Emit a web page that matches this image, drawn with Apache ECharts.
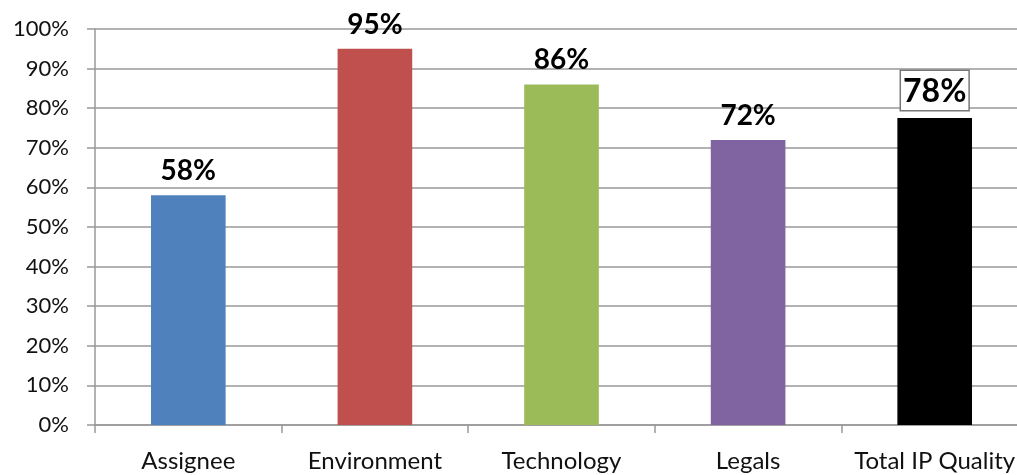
<!DOCTYPE html>
<html>
<head>
<meta charset="utf-8">
<script src="https://cdn.jsdelivr.net/npm/echarts@6/dist/echarts.min.js"></script>
<style>html,body{margin:0;padding:0;background:#fff}#c{width:1017px;height:475px}</style>
</head>
<body>
<div id="c"></div>
<script>
const categories = ['Assignee', 'Environment', 'Technology', 'Legals', 'Total IP Quality'];
const values = [58, 95, 86, 72, 77.5];
const colors = ['#4F81BD', '#C0504D', '#9BBB59', '#8064A2', '#000000'];
const yTicks = [0, 10, 20, 30, 40, 50, 60, 70, 80, 90, 100];

const FONT = 'Lato, "Open Sans", sans-serif';
const chart = echarts.init(document.getElementById('c'));
const data = values.map((v, i) => {
  const item = { value: v, itemStyle: { color: colors[i] } };
  if (i === values.length - 1) {
    item.label = {
      fontSize: 32,
      borderColor: '#777',
      borderWidth: 1.5,
      backgroundColor: '#fff',
      padding: [5, 2, 2, 2],
      distance: 8
    };
  }
  return item;
});
chart.setOption({
  animation: false,
  grid: { left: 95, top: 29, width: 933, height: 396, containLabel: false, outerBoundsMode: 'none' },
  xAxis: {
    type: 'category',
    data: categories,
    boundaryGap: true,
    axisLine: { show: true, lineStyle: { color: '#999', width: 1.5 } },
    axisTick: { show: true, interval: 0, length: 8, alignWithLabel: false, lineStyle: { color: '#999', width: 1.5 } },
    axisLabel: { interval: 0, hideOverlap: false, color: '#111', fontFamily: FONT, fontSize: 24, margin: 24 }
  },
  yAxis: {
    type: 'value',
    min: yTicks[0],
    max: yTicks[yTicks.length - 1],
    interval: 10,
    axisLine: { show: true, lineStyle: { color: '#999', width: 1.5 } },
    axisTick: { show: true, length: 8, lineStyle: { color: '#999', width: 1.5 } },
    axisLabel: { color: '#111', fontFamily: FONT, fontSize: 22, margin: 26, formatter: '{value}%' },
    splitLine: { show: true, lineStyle: { color: '#999', width: 1.5 } }
  },
  series: [{
    type: 'bar',
    data: data,
    barWidth: '40%',
    label: {
      show: true,
      position: 'top',
      distance: 10,
      fontFamily: FONT,
      fontWeight: 'bold',
      fontSize: 28,
      color: '#000',
      formatter: p => Math.round(p.value) + '%'
    }
  }]
});
</script>
</body>
</html>
